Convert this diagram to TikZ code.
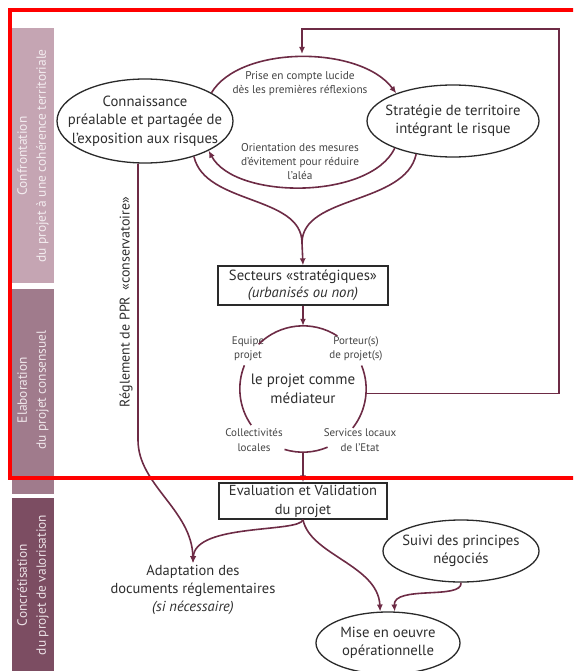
\documentclass[tikz,border=0pt]{standalone}
\usepackage{fontspec}
\setmainfont{PT Sans}
\usetikzlibrary{shapes.geometric,arrows.meta}
\definecolor{maroon}{HTML}{6D2B45}
\definecolor{boxline}{HTML}{2A2A2A}
\definecolor{txtcol}{HTML}{2E2E2E}
\definecolor{barA}{HTML}{C5A5B3}
\definecolor{barB}{HTML}{A07B8C}
\definecolor{barC}{HTML}{7C4D62}
\definecolor{barAt}{HTML}{F3ECEF}
\definecolor{barBt}{HTML}{EFE6EA}
\definecolor{barCt}{HTML}{EBE0E5}
\tikzset{
  ell/.style={ellipse, draw=boxline, line width=1.3pt, inner sep=0pt, fill=white},
  box/.style={rectangle, draw=boxline, line width=1.3pt, inner sep=0pt, fill=white},
  txt/.style={text=txtcol, align=center, font=\fontsize{14.7}{18.5}\selectfont},
  smalltxt/.style={text=txtcol!90, align=center, font=\fontsize{11.3}{14}\selectfont},
  labtxt/.style={text=txtcol!90, align=center, font=\fontsize{11}{14.5}\selectfont},
  bartxt/.style={align=center, rotate=90, font=\fontsize{13.4}{19}\selectfont},
  arr/.style={draw=maroon, line width=1.6pt, -{Latex[length=7pt,width=6pt]}},
  ln/.style={draw=maroon, line width=1.6pt},
}
\begin{document}
\begin{tikzpicture}[x=1pt,y=-1pt]
\useasboundingbox (0,0) rectangle (573,671);
\clip (0,0) rectangle (573,671);
% side bars
\fill[barA] (12,28) rectangle (54,283);
\fill[barB] (12,289) rectangle (54,494);
\fill[barC] (12,498) rectangle (54,680);
\node[bartxt, text=barAt] (barone) at (33,156) {Confrontation\\du projet à une cohérence territoriale};
\node[bartxt, text=barBt] (bartwo) at (33,390) {Elaboration\\du projet consensuel};
\node[bartxt, text=barCt] (barthree) at (33,585) {Concrétisation\\du projet de valorisation};
% main nodes
\node[ell, minimum width=176pt, minimum height=84pt,
  label={[txt]center:{Connaissance\\préalable et partagée de\\l’exposition aux risques}}] (conn) at (145,121) {};
\node[ell, minimum width=172pt, minimum height=72pt,
  label={[txt]center:{Stratégie de territoire\\intégrant le risque}}] (strat) at (453,121) {};
\node[smalltxt] (prise) at (300,84) {Prise en compte lucide\\dès les premières réflexions};
\node[smalltxt] (orient) at (300,162) {Orientation des mesures\\d’évitement pour réduire\\l’aléa};
\node[box, minimum width=170pt, minimum height=39pt, txt, font=\fontsize{14.7}{17}\selectfont] (sect) at (303,285.5) {Secteurs «stratégiques»\\\textit{(urbanisés ou non)}};
\node[circle, minimum size=126pt, inner sep=0pt, txt, font=\fontsize{15}{19}\selectfont] (med) at (303,389) {le projet comme\\médiateur};
\node[labtxt] (equipe) at (248,349) {Equipe\\projet};
\node[labtxt] (porteur) at (356,349) {Porteur(s)\\de projet(s)};
\node[labtxt] (collect) at (254,440) {Collectivités\\locales};
\node[labtxt] (services) at (360,440) {Services locaux\\de l’Etat};
\node[box, minimum width=168pt, minimum height=36pt, txt, font=\fontsize{14.5}{19}\selectfont] (eval) at (303,501) {Evaluation et Validation\\du projet};
\node[txt, font=\fontsize{14.5}{18}\selectfont, inner sep=2pt] (adapt) at (193,590) {Adaptation des\\documents réglementaires\\\textit{(si nécessaire)}};
\node[ell, minimum width=156pt, minimum height=62pt,
  label={[txt]center:{Suivi des principes\\négociés}}] (suivi) at (461,551) {};
\node[ell, minimum width=144pt, minimum height=62pt,
  label={[txt]center:{Mise en oeuvre\\opérationnelle}}] (mise) at (388,643) {};
\node[txt, rotate=90, font=\fontsize{14}{16}\selectfont] (regl) at (126,302) {Réglement de PPR \,«conservatoire»};
% coordinates
\coordinate (lr) at (559,393);
\coordinate (lt) at (559,29);
\coordinate (ltl) at (302,29);
\coordinate (topin) at (302,54);
\coordinate (mg) at (302,243);
\coordinate (rb) at (138,440);
% connectors
\draw[arr] (conn.23) .. controls (240,45) and (360,45) .. (strat.154);
\draw[arr] (strat.205) .. controls (370,200) and (235,200) .. (conn.-25);
\draw[ln] (conn.-36) .. controls (205,205) and (302,195) .. (mg);
\draw[ln] (strat.222) .. controls (405,205) and (302,195) .. (mg);
\draw[arr] (mg) -- (sect.north);
\draw[arr] (sect.south) -- (med.north);
\draw[ln] (med.57) arc[start angle=-57, end angle=-135, radius=63];
\draw[ln] (med.158) arc[start angle=-158, end angle=-215, radius=63];
\draw[ln] (med.253) arc[start angle=-253, end angle=-293, radius=63];
\draw[ln] (med.-38) arc[start angle=38, end angle=-22, radius=63];
\draw[arr] (med.-4) -- (med.-4 -| lr) -- (lt) -- (ltl) -- (topin);
\draw[arr] (med.south) -- (eval.north);
\draw[arr] ([xshift=-7pt]conn.south) -- (rb) .. controls (138,485) and (192,510) .. (adapt.north);
\draw[arr] (eval.south) .. controls (300,533) and (195,523) .. (adapt.north);
\draw[arr] (eval.south) .. controls (310,555) and (378,565) .. (mise.104);
\draw[arr] (suivi.south) .. controls (463,600) and (393,585) .. (mise.78);
% red frame
\draw[red, line width=4.5pt] (10,10) rectangle (600,478);
\end{tikzpicture}
\end{document}
